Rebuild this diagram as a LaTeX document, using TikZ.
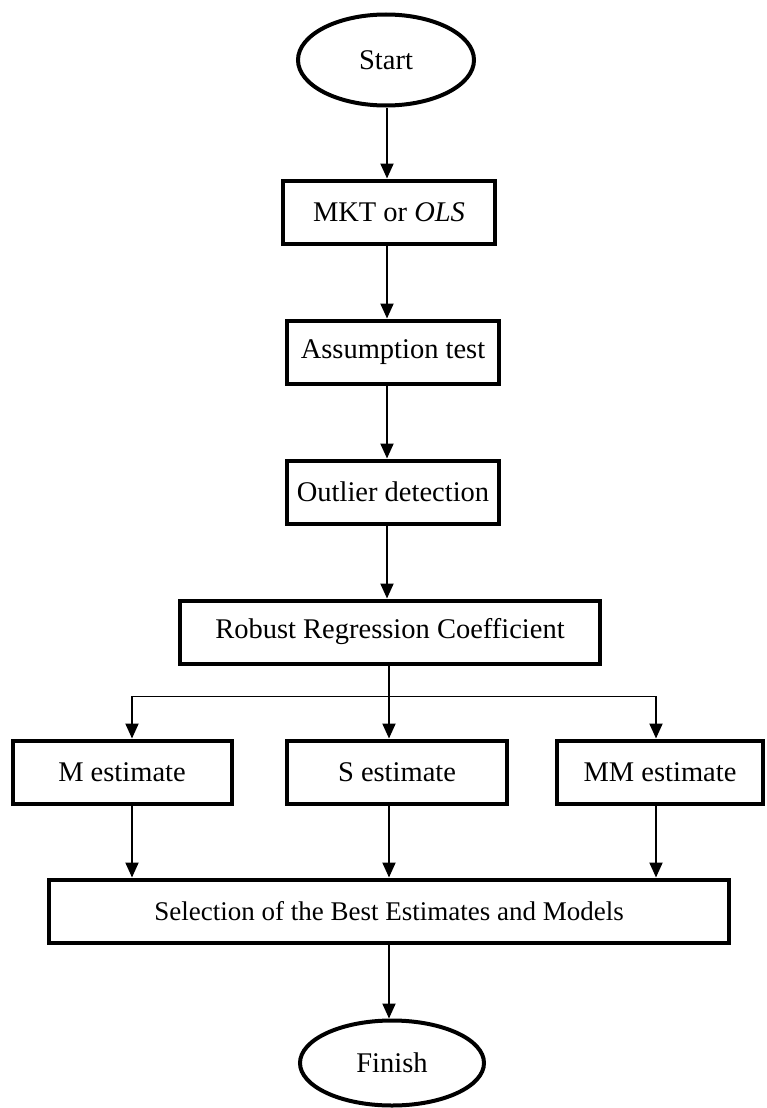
\documentclass[tikz,border=0pt]{standalone}
\usepackage{fontspec}
\setmainfont{Liberation Serif}
\usetikzlibrary{shapes.geometric,arrows.meta}

\begin{document}
\begin{tikzpicture}[x=1pt,y=-1pt,
  box/.style={draw,line width=4pt,minimum height=63pt,inner sep=0pt,font=\fontsize{28.5}{33}\selectfont},
  term/.style={draw,ellipse,line width=4pt,inner sep=0pt,font=\fontsize{28.5}{33}\selectfont},
  flow/.style={line width=2pt,-{Triangle[width=13pt,length=15pt]}}]
\useasboundingbox (0,0) rectangle (767,1108);
 \node[term,minimum width=176pt,minimum height=91pt] (start) at (386,60) {Start};
 \node[box,minimum width=212pt] (mkt) at (389,212) {MKT or \textit{OLS}};
 \node[box,minimum width=212pt] (assume) at (393,352) {Assumption test};
 \node[box,minimum width=212pt] (outlier) at (393,492) {Outlier detection};
 \node[box,minimum width=420pt] (robust) at (390,632) {Robust Regression Coefficient};
 \node[box,minimum width=219pt,minimum height=63pt] (mest) at (122,772) {M estimate};
 \node[box,minimum width=220pt,minimum height=63pt] (sest) at (397,772) {S estimate};
 \node[box,minimum width=206pt,minimum height=63pt] (mmest) at (660,772) {MM estimate};
 \node[box,minimum width=680pt,font=\fontsize{27}{32}\selectfont] (select) at (389,911) {Selection of the Best Estimates and Models};
 \node[term,minimum width=184pt,minimum height=85pt] (finish) at (392,1063) {Finish};
 \coordinate (top) at (387,0);
 \coordinate (bl) at (132,696);
 \coordinate (bm) at (389,696);
 \coordinate (br) at (656,696);
 \draw[flow] (start.south -| top) -- (mkt.north -| top);
 \draw[flow] (mkt.south -| top) -- (assume.north -| top);
 \draw[flow] (assume.south -| top) -- (outlier.north -| top);
 \draw[flow] (outlier.south -| top) -- (robust.north -| top);
 \draw[line width=1pt] (bl) -- (br);
 \draw[flow] (robust.south -| bm) -- (sest.north -| bm);
 \draw[flow] (bl) -- (mest.north -| bl);
 \draw[flow] (br) -- (mmest.north -| br);
 \draw[flow] (mest.south -| bl) -- (select.north -| bl);
 \draw[flow] (sest.south -| bm) -- (select.north -| bm);
 \draw[flow] (mmest.south -| br) -- (select.north -| br);
 \draw[flow] (select.south -| bm) -- (finish.north -| bm);
\end{tikzpicture}
\end{document}
